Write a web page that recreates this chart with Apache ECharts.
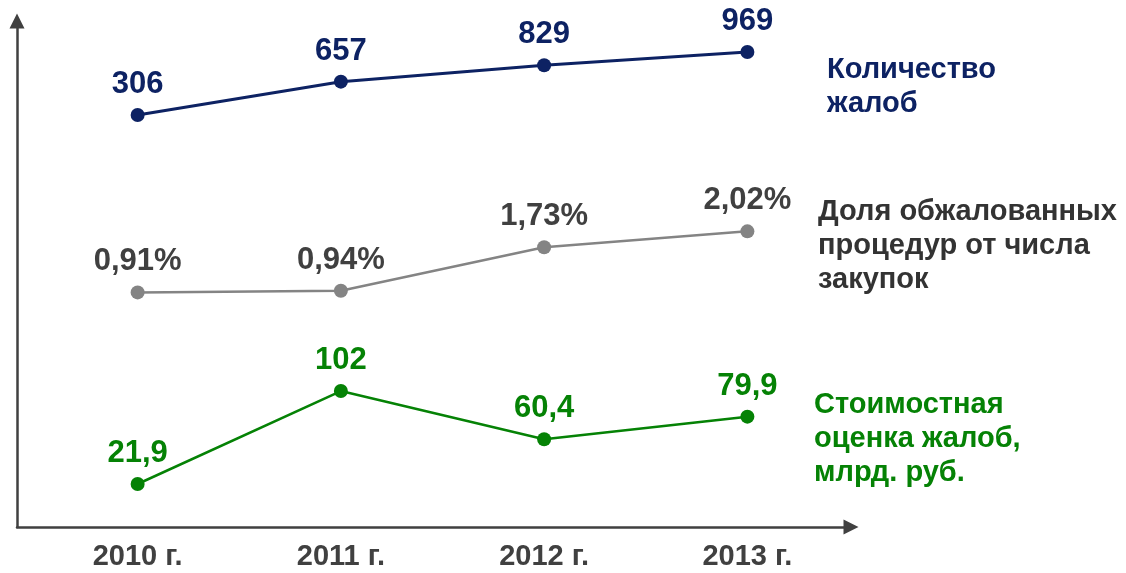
<!DOCTYPE html>
<html>
<head>
<meta charset="utf-8">
<script src="https://cdn.jsdelivr.net/npm/echarts@6/dist/echarts.min.js"></script>
<style>
html,body{margin:0;padding:0;background:#fff;}
#chart{width:1126px;height:573px;}
</style>
</head>
<body>
<div id="chart"></div>
<script>
const years = ['2010 г.', '2011 г.', '2012 г.', '2013 г.'];
const complaintsCount = [306, 657, 829, 969];
const appealedShare = [0.91, 0.94, 1.73, 2.02];
const complaintsValue = [21.9, 102, 60.4, 79.9];

const seriesNames = ['Количество\nжалоб', 'Доля обжалованных\nпроцедур от числа\nзакупок', 'Стоимостная\nоценка жалоб,\nмлрд. руб.'];

const NAVY = '#0d2263';
const GRAY_LINE = '#848484';
const GRAY_TEXT = '#404040';
const GREEN = '#058205';
const AXIS = '#404040';
const FONT = '"Liberation Sans", Arial, sans-serif';

const chart = echarts.init(document.getElementById('chart'), null, {renderer: 'canvas'});

function comma(v, digits) {
  return (digits != null ? v.toFixed(digits) : String(v)).replace('.', ',');
}

function labelStyle(color, fmt) {
  return {
    show: true, position: 'top', distance: 8,
    fontFamily: FONT, fontWeight: 'bold', fontSize: 31, color: color,
    formatter: fmt
  };
}

const option = {
  backgroundColor: '#fff',
  animation: false,
  grid: [
    {left: 17, right: 275, top: 21, bottom: 46},
    {left: 36, right: 277, top: 20, bottom: 46}
  ],
  xAxis: [
    {gridIndex: 0, type: 'value', min: 0, max: 1,
      axisLine: {show: true, lineStyle: {color: AXIS, width: 2.5}, symbol: ['none', 'triangle'], symbolSize: [15, 15]},
      axisTick: {show: false}, axisLabel: {show: false}, splitLine: {show: false}},
    {gridIndex: 1, type: 'category', data: years, boundaryGap: true,
      axisLine: {show: false}, axisTick: {show: false}, splitLine: {show: false},
      axisLabel: {show: true, margin: 15, fontFamily: FONT, fontWeight: 'bold', fontSize: 29, color: GRAY_TEXT}}
  ],
  yAxis: [
    {gridIndex: 0, type: 'value', min: 0, max: 1,
      axisLine: {show: true, onZero: false, lineStyle: {color: AXIS, width: 2.5}, symbol: ['none', 'triangle'], symbolSize: [15, 15]},
      axisTick: {show: false}, axisLabel: {show: false}, splitLine: {show: false}},
    {gridIndex: 1, type: 'value', min: -4031, max: 1306, show: false},
    {gridIndex: 1, type: 'value', min: -3.355, max: 5.863, show: false},
    {gridIndex: 1, type: 'value', min: -15.14, max: 421.6, show: false}
  ],
  series: [
    {name: seriesNames[0], type: 'line', xAxisIndex: 1, yAxisIndex: 1, data: complaintsCount,
      symbol: 'circle', symbolSize: 14, itemStyle: {color: NAVY}, lineStyle: {color: NAVY, width: 3},
      label: labelStyle(NAVY, p => String(p.value))},
    {name: seriesNames[1], type: 'line', xAxisIndex: 1, yAxisIndex: 2, data: appealedShare,
      symbol: 'circle', symbolSize: 14, itemStyle: {color: GRAY_LINE}, lineStyle: {color: GRAY_LINE, width: 2.5},
      label: labelStyle(GRAY_TEXT, p => comma(p.value, 2) + '%')},
    {name: seriesNames[2], type: 'line', xAxisIndex: 1, yAxisIndex: 3, data: complaintsValue,
      symbol: 'circle', symbolSize: 14, itemStyle: {color: GREEN}, lineStyle: {color: GREEN, width: 2.5},
      label: labelStyle(GREEN, p => comma(p.value))}
  ],
  graphic: [
    {type: 'text', left: 827, top: 53, style: {text: seriesNames[0], fill: NAVY, font: 'bold 29px ' + FONT, lineHeight: 34}},
    {type: 'text', left: 818, top: 195, style: {text: seriesNames[1], fill: '#333333', font: 'bold 29px ' + FONT, lineHeight: 34}},
    {type: 'text', left: 814, top: 388, style: {text: seriesNames[2], fill: GREEN, font: 'bold 29px ' + FONT, lineHeight: 34}}
  ]
};
chart.setOption(option);
</script>
</body>
</html>
